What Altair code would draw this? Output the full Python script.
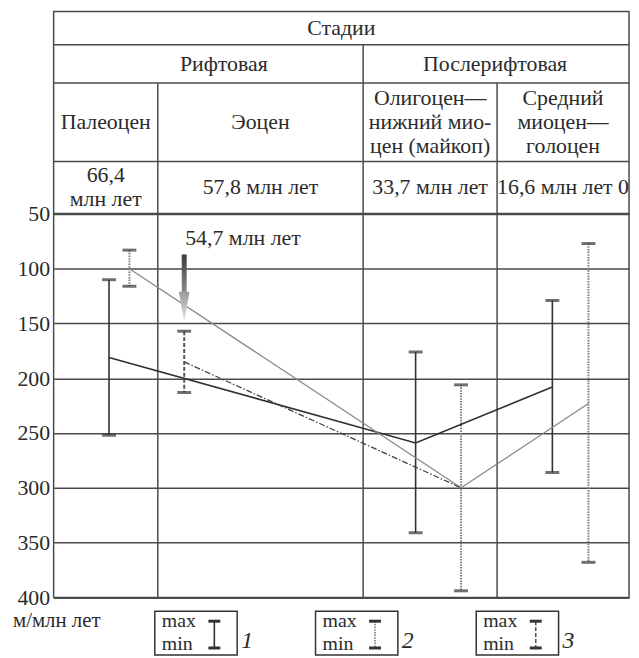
import altair as alt
import pandas as pd

# ---------------- data ----------------
# table columns (ages, млн лет)
age_edges = [66.4, 57.8, 33.7, 16.6, 0.0]
col_px = [0, 105, 312, 447, 580]          # widths of the table columns

stage_title = "Стадии"
stages = ["Рифтовая", "Послерифтовая"]
stage_start = [66.4, 33.7]
stage_end = [33.7, 0.0]
epochs = ["Палеоцен", "Эоцен", "Олигоцен—\nнижний мио-\nцен (майкоп)", "Средний\nмиоцен—\nголоцен"]
epoch_start = [66.4, 57.8, 33.7, 16.6]
epoch_end = [57.8, 33.7, 16.6, 0.0]
age_labels = ["66,4\nмлн лет", "57,8 млн лет", "33,7 млн лет", "16,6 млн лет 0"]

# series 1 (solid)
s1_age = [62.1, 27.0, 9.4]
s1_mean = [181, 259, 208]
s1_upper = [110, 176, 129]
s1_lower = [252, 341, 286]
# series 2 (dotted)
s2_age = [60.3, 21.2, 4.7]
s2_mean = [100, 300, 223]
s2_upper = [83, 206, 77]
s2_lower = [116, 394, 368]
# series 3 (dash-dot), starts at 54,7 млн лет
s3_age = [54.7, 21.2]
s3_mean = [185, 300]
s3_upper = [157, None]
s3_lower = [213, None]

arrow_age = 54.7
arrow_top = 87
arrow_tip = 148
arrow_label = "54,7 млн лет"
arrow_label_y = 72

y_ticks = [50, 100, 150, 200, 250, 300, 350, 400]
unit_label = "м/млн лет"
legend_numbers = ["1", "2", "3"]

# ---------------- layout ----------------
W = 580
HH = 203.5
BH = 386.5
row_edges = [0, 33.5, 72, 151, HH]
row_c = [(row_edges[i] + row_edges[i + 1]) / 2 for i in range(4)]
INK = "#2b2b2b"
LINE = "#4a4a4a"
FONT = "Liberation Serif"
FS = 22
LH = 24

xscale = alt.Scale(domain=age_edges, range=col_px, nice=False, zero=False)
def X(f):
    return alt.X(f, type="quantitative", scale=xscale, axis=None)

hscale = alt.Scale(domain=[0, HH], range=[0, HH], nice=False, zero=False)
def HY(f):
    return alt.Y(f, type="quantitative", scale=hscale, axis=None)

yscale = alt.Scale(domain=[50, 400], reverse=True, nice=False, zero=False)
yaxis = alt.Axis(values=y_ticks, grid=True, gridColor=LINE, gridWidth=1.5, domain=False,
                 ticks=False, labelPadding=4, labelFontSize=22, labelColor=INK, labelFont=FONT,
                 title=None)
def Y(f):
    return alt.Y(f, type="quantitative", scale=yscale, axis=yaxis)

one = alt.InlineData(values=[{"k": 0}])

def cell_df(texts, a0, a1, yc):
    n = [t.count("\n") for t in texts]
    return pd.DataFrame({"t": texts, "a0": a0, "a1": a1,
                         "yc": [yc - k * LH / 2 for k in n]})

# ---------------- header table ----------------
hlines = pd.DataFrame({"y": row_edges[1:4]})
vlines = pd.DataFrame({"age": [33.7, 57.8, 16.6], "ytop": [row_edges[1], row_edges[2], row_edges[2]]})

h_rules = alt.Chart(hlines).mark_rule(color=LINE, strokeWidth=1.5).encode(
    y=HY("y"), x=alt.value(0), x2=alt.value(W))
v_rules = alt.Chart(vlines).mark_rule(color=LINE, strokeWidth=1.5).encode(
    x=X("age"), y=HY("ytop"), y2=alt.value(HH))

title_txt = alt.Chart(one).mark_text(text=stage_title, fontSize=FS, color=INK, font=FONT,
                                     baseline="middle").encode(
    x=alt.value(W / 2), y=alt.value(row_c[0]))

def cells(dfc):
    return alt.Chart(dfc).transform_calculate(ac="(datum.a0 + datum.a1) / 2").mark_text(
        fontSize=FS, color=INK, font=FONT, baseline="middle", lineBreak="\n", lineHeight=LH).encode(
        x=X("ac:Q"), y=HY("yc"), text="t:N")

stage_txt = cells(cell_df(stages, stage_start, stage_end, row_c[1]))
epoch_txt = cells(cell_df(epochs, epoch_start, epoch_end, row_c[2]))
agel_txt = cells(cell_df(age_labels, epoch_start, epoch_end, row_c[3]))

header = alt.layer(h_rules, v_rules, title_txt, stage_txt, epoch_txt, agel_txt).properties(
    width=W, height=HH)

# ---------------- body ----------------
def rows(name, ages, means, ups, lows):
    out = []
    for a, m, u, l in zip(ages, means, ups, lows):
        out.append({"series": name, "age": a, "mean": m, "upper": u, "lower": l})
    return out

all_rows = rows("1", s1_age, s1_mean, s1_upper, s1_lower) + \
    rows("2", s2_age, s2_mean, s2_upper, s2_lower) + \
    rows("3", s3_age, s3_mean, s3_upper, s3_lower)
df = pd.DataFrame(all_rows)
bars = df.dropna(subset=["upper"])
caps = pd.concat([bars[["series", "age", "upper"]].rename(columns={"upper": "v"}),
                  bars[["series", "age", "lower"]].rename(columns={"lower": "v"})])

body_v = alt.Chart(pd.DataFrame({"age": age_edges[1:4]})).mark_rule(
    color=LINE, strokeWidth=1.5).encode(x=X("age"), y=alt.value(0), y2=alt.value(BH))

styles = {
    "1": dict(color="#303030", strokeWidth=1.6),
    "2": dict(color="#7a7a7a", strokeWidth=2, strokeDash=[1.5, 1.2]),
    "3": dict(color="#555555", strokeWidth=2, strokeDash=[4, 2]),
}
line_styles = {
    "1": dict(color="#303030", strokeWidth=1.6),
    "2": dict(color="#8a8a8a", strokeWidth=1.3),
    "3": dict(color="#404040", strokeWidth=1.3, strokeDash=[6, 2, 1.5, 2]),
}

layers = [body_v]
for s in ["1", "2", "3"]:
    layers.append(alt.Chart(bars[bars.series == s]).mark_rule(**styles[s]).encode(
        x=X("age"), y=Y("upper"), y2="lower"))
layers.append(alt.Chart(caps).mark_tick(orient="horizontal", size=14, thickness=3,
                                        color="#333333").encode(x=X("age"), y=Y("v")))
for s in ["1", "2", "3"]:
    layers.append(alt.Chart(df[df.series == s]).mark_line(**line_styles[s]).encode(
        x=X("age"), y=Y("mean")))

# arrow
arrow_df = pd.DataFrame({"age": [arrow_age], "top": [arrow_top], "tip": [arrow_tip]})
shaft = alt.Chart(arrow_df).transform_calculate(bot="datum.tip - 26").mark_bar(
    width=5,
    color=alt.Gradient(gradient="linear", x1=0, x2=0, y1=0, y2=1,
                       stops=[alt.GradientStop(color="#3a3a3a", offset=0),
                              alt.GradientStop(color="#8c8c8c", offset=1)])).encode(
    x=X("age"), y=Y("top"), y2="bot:Q")
head = alt.Chart(arrow_df).transform_calculate(hc="datum.tip - 13.5").mark_point(
    shape="M-0.36,-1L0.36,-1L0,1Z", size=900, filled=True, opacity=1, strokeWidth=0,
    fill=alt.Gradient(gradient="linear", x1=0, x2=0, y1=0, y2=1,
                      stops=[alt.GradientStop(color="#9a9a9a", offset=0),
                             alt.GradientStop(color="#e4e4e4", offset=1)])).encode(
    x=X("age"), y=Y("hc:Q"))
lbl = alt.Chart(pd.DataFrame({"age": [arrow_age], "y": [arrow_label_y], "t": [arrow_label]})).mark_text(
    align="left", baseline="middle", dx=1, fontSize=FS, color=INK, font=FONT).encode(
    x=X("age"), y=Y("y"), text="t:N")
layers += [shaft, head, lbl]

# unit label and legend
layers.append(alt.Chart(one).mark_text(text=unit_label, align="left", baseline="middle",
                                       fontSize=21, color=INK, font=FONT).encode(
    x=alt.value(-41), y=alt.value(410)))
box_top, box_h, box_w = 400.5, 44, 83
for i, num in enumerate(legend_numbers):
    bx = 102 + i * 162
    s = str(i + 1)
    layers.append(alt.Chart(one).mark_rect(fillOpacity=0, stroke="#333333", strokeWidth=1.5).encode(
        x=alt.value(bx), x2=alt.value(bx + box_w), y=alt.value(box_top), y2=alt.value(box_top + box_h)))
    layers.append(alt.Chart(one).mark_text(text="max", align="left", baseline="middle",
                                           fontSize=20, color=INK, font=FONT).encode(
        x=alt.value(bx + 7), y=alt.value(box_top + 10)))
    layers.append(alt.Chart(one).mark_text(text="min", align="left", baseline="middle",
                                           fontSize=20, color=INK, font=FONT).encode(
        x=alt.value(bx + 7), y=alt.value(box_top + 33)))
    sx = bx + 60
    st = dict(styles[s])
    st["strokeWidth"] = 1.6
    layers.append(alt.Chart(one).mark_rule(**st).encode(
        x=alt.value(sx), y=alt.value(box_top + 10), y2=alt.value(box_top + 37)))
    for yy in (box_top + 10, box_top + 37):
        layers.append(alt.Chart(one).mark_rule(color="#333333", strokeWidth=3).encode(
            x=alt.value(sx - 6), x2=alt.value(sx + 6), y=alt.value(yy)))
    layers.append(alt.Chart(one).mark_text(text=num, align="center", baseline="middle",
                                           fontSize=24, fontStyle="italic", color=INK, font=FONT).encode(
        x=alt.value(bx + box_w + 10), y=alt.value(box_top + 30)))

body = alt.layer(*layers).properties(width=W, height=BH)

chart = alt.vconcat(header, body, spacing=0, bounds="flush").resolve_scale(
    x="independent", y="independent").properties(
    padding={"left": 4, "top": 0, "right": 0, "bottom": 0}
).configure(font=FONT).configure_view(stroke=LINE, strokeWidth=1.5)

chart.save("out.html", embed_options={"renderer": "svg", "actions": False})
